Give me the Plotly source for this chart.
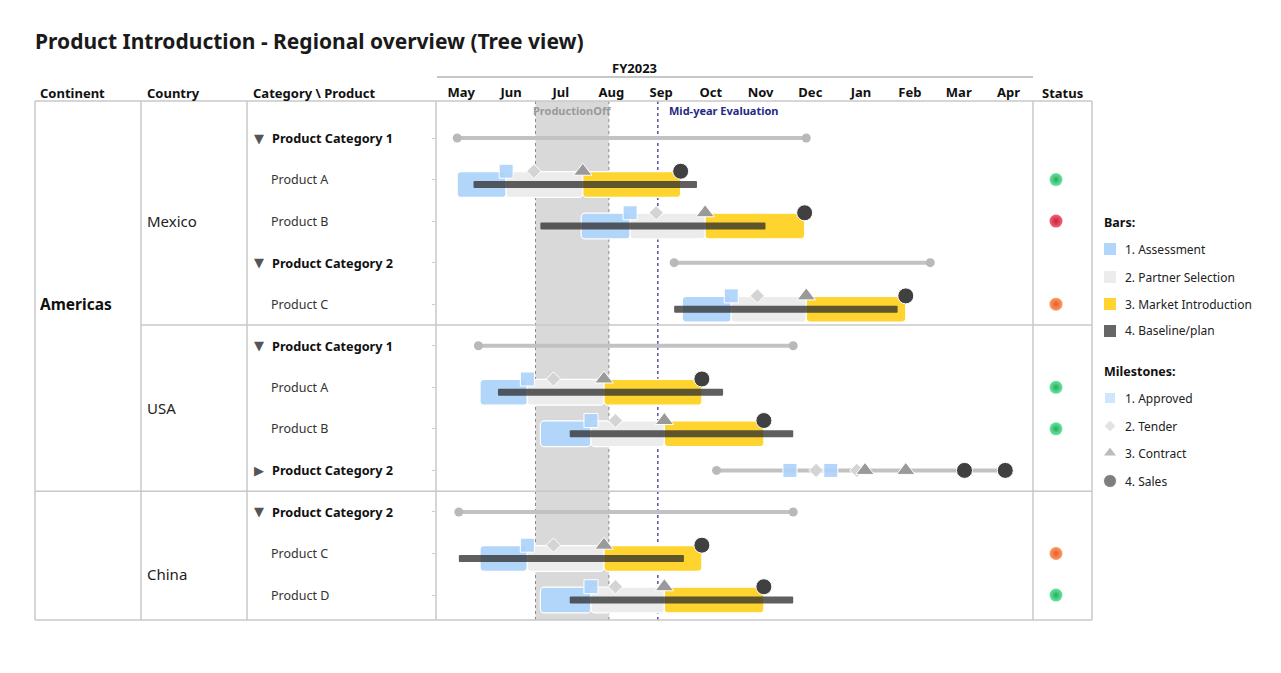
import plotly.graph_objects as go
import pandas as pd

# the page body has an 8px margin; the figure is sized to fit inside the window
PAGE_OFF = 8
W, H = 1265, 657
FONT = "Noto Sans"
TXT_SHIFT = -2   # compensate annotation padding

# ---------------- data ----------------
title = "Product Introduction - Regional overview (Tree view)"
fiscal_year = "FY2023"
month_labels = ["May", "Jun", "Jul", "Aug", "Sep", "Oct", "Nov", "Dec", "Jan", "Feb", "Mar", "Apr"]
month_starts = ["2023-05-01", "2023-06-01", "2023-07-01", "2023-08-01", "2023-09-01", "2023-10-01",
                "2023-11-01", "2023-12-01", "2024-01-01", "2024-02-01", "2024-03-01", "2024-04-01",
                "2024-05-01"]

row_labels = ["Product Category 1", "Product A", "Product B", "Product Category 2", "Product C",
              "Product Category 1", "Product A", "Product B", "Product Category 2",
              "Product Category 2", "Product C", "Product D"]
row_levels = ["category", "product", "product", "category", "product",
              "category", "product", "product", "collapsed",
              "category", "product", "product"]

continent_labels = ["Americas"]
continent_label_rows = [4]
country_labels = ["Mexico", "USA", "China"]
country_label_rows = [2, 6.5, 10.5]
country_boundaries = [4.5]     # between Mexico and USA
continent_boundaries = [8.5]   # between Americas and China

product_rows = [1, 2, 4, 6, 7, 10, 11]
assess_start = ["2023-05-14", "2023-07-29", "2023-09-29", "2023-05-28", "2023-07-04", "2023-05-28", "2023-07-04"]
assess_end = ["2023-06-13", "2023-08-28", "2023-10-29", "2023-06-26", "2023-08-04", "2023-06-26", "2023-08-04"]
partner_end = ["2023-07-30", "2023-10-13", "2023-12-14", "2023-08-12", "2023-09-18", "2023-08-12", "2023-09-18"]
market_end = ["2023-09-28", "2023-12-13", "2024-02-13", "2023-10-11", "2023-11-18", "2023-10-11", "2023-11-18"]
baseline_start = ["2023-05-24", "2023-07-04", "2023-09-24", "2023-06-08", "2023-07-22", "2023-05-15", "2023-07-22"]
baseline_end = ["2023-10-08", "2023-11-19", "2024-02-08", "2023-10-24", "2023-12-06", "2023-09-30", "2023-12-06"]
ms_approved = ["2023-06-13", "2023-08-28", "2023-10-29", "2023-06-26", "2023-08-04", "2023-06-26", "2023-08-04"]
ms_tender = ["2023-06-30", "2023-09-13", "2023-11-14", "2023-07-12", "2023-08-19", "2023-07-12", "2023-08-19"]
ms_contract = ["2023-07-30", "2023-10-13", "2023-12-14", "2023-08-12", "2023-09-18", "2023-08-12", "2023-09-18"]
ms_sales = ["2023-09-28", "2023-12-13", "2024-02-13", "2023-10-11", "2023-11-18", "2023-10-11", "2023-11-18"]
status = ["green", "red", "orange", "green", "green", "orange", "green"]

summary_rows = [0, 3, 5, 8, 9]
summary_start = ["2023-05-14", "2023-09-24", "2023-05-27", "2023-10-20", "2023-05-15"]
summary_end = ["2023-12-14", "2024-02-28", "2023-12-06", "2024-04-14", "2023-12-06"]

collapsed_row = 8
collapsed_approved = ["2023-12-04", "2023-12-29"]
collapsed_tender = ["2023-12-20", "2024-01-14"]
collapsed_contract = ["2024-01-19", "2024-02-13"]
collapsed_sales = ["2024-03-20", "2024-04-14"]

production_off = ["2023-07-01", "2023-08-15"]
production_off_label = "ProductionOff"
midyear = "2023-09-14"
midyear_label = "Mid-year Evaluation"

legend_bar_labels = ["1. Assessment", "2. Partner Selection", "3. Market Introduction", "4. Baseline/plan"]
legend_ms_labels = ["1. Approved", "2. Tender", "3. Contract", "4. Sales"]

# ---------------- styles ----------------
C_ASSESS = "#b2d6fa"
C_PARTNER = "#ececec"
C_MARKET = "#ffd42e"
C_BASE = "rgba(45,45,45,0.76)"
C_APPROVED = "rgba(172,210,250,0.92)"
C_TENDER = "#d4d4d4"
C_CONTRACT = "#9a9a9a"
C_SALES = "#404040"
C_GRID = "#c8c8c8"
STATUS_COL = {"green": ("#6ae6a4", "#2aa862"), "red": ("#f4607a", "#c8203a"),
              "orange": ("#ff9a66", "#e0602a")}

BAR_OFF = 0.12
MS_OFF = -0.2


def px(x):
    return (x - PAGE_OFF) / W


def py(y):
    return 1 - (y - PAGE_OFF) / H


def dur(a, b):
    return [(pd.Timestamp(e) - pd.Timestamp(s)).total_seconds() * 1000 for s, e in zip(a, b)]


fig = go.Figure()

# phase bars
for starts, ends, col in [(assess_start, assess_end, C_ASSESS),
                          (assess_end, partner_end, C_PARTNER),
                          (partner_end, market_end, C_MARKET)]:
    fig.add_trace(go.Bar(
        y=[r + BAR_OFF for r in product_rows], base=starts, x=dur(starts, ends),
        orientation="h", width=0.62,
        marker=dict(color=col, cornerradius=4, line=dict(color="white", width=1.2)),
        showlegend=False, hoverinfo="skip"))

# baseline
fig.add_trace(go.Bar(
    y=[r + BAR_OFF for r in product_rows], base=baseline_start, x=dur(baseline_start, baseline_end),
    orientation="h", width=0.17,
    marker=dict(color=C_BASE, cornerradius=1, line=dict(width=0)),
    showlegend=False, hoverinfo="skip"))

# summary lines
sx, sy = [], []
for r, s, e in zip(summary_rows, summary_start, summary_end):
    sx += [s, e, None]
    sy += [r, r, None]
fig.add_trace(go.Scatter(x=sx, y=sy, mode="lines+markers",
                         line=dict(color="#c2c2c2", width=4),
                         marker=dict(color="#b9b9b9", size=9),
                         showlegend=False, hoverinfo="skip"))

# milestones
ms_specs = [("square", 14, C_APPROVED, ms_approved, collapsed_approved),
            ("diamond", 11, C_TENDER, ms_tender, collapsed_tender),
            ("triangle-up", 16, C_CONTRACT, ms_contract, collapsed_contract),
            ("circle", 16, C_SALES, ms_sales, collapsed_sales)]
for sym, size, col, vals, cvals in ms_specs:
    fig.add_trace(go.Scatter(
        x=vals + cvals,
        y=[r + MS_OFF for r in product_rows] + [collapsed_row] * len(cvals),
        mode="markers",
        marker=dict(symbol=sym, size=size, color=col, line=dict(color="white", width=1)),
        showlegend=False, hoverinfo="skip"))

# status dots
fig.add_trace(go.Scatter(
    x=[0.39] * len(product_rows), y=product_rows, xaxis="x2", yaxis="y",
    mode="markers",
    marker=dict(size=13, color=[STATUS_COL[s][0] for s in status],
                gradient=dict(type="radial", color=[STATUS_COL[s][1] for s in status]),
                line=dict(width=0)),
    showlegend=False, hoverinfo="skip"))

# legend symbols (pixel-space helper axis)
leg_bar_y = [249, 277, 304, 331]
leg_ms_y = [398, 426, 453, 481]
fig.add_trace(go.Scatter(
    x=[1110] * 4, y=leg_bar_y, xaxis="x3", yaxis="y3", mode="markers",
    marker=dict(symbol="square", size=12, color=[C_ASSESS, C_PARTNER, C_MARKET, "#666666"]),
    showlegend=False, hoverinfo="skip"))
fig.add_trace(go.Scatter(
    x=[1110] * 4, y=leg_ms_y, xaxis="x3", yaxis="y3", mode="markers",
    marker=dict(symbol=["square", "diamond", "triangle-up", "circle"], size=[11, 9, 12, 13],
                color=["#bcdcfb", "#d8d8d8", "#a0a0a0", "#484848"]),
    showlegend=False, hoverinfo="skip"))

shapes = []
ann = []

# production off band + lines
shapes.append(dict(type="rect", xref="x", yref="y domain", x0=production_off[0], x1=production_off[1],
                   y0=0, y1=1, fillcolor="#d9d9d9", line=dict(width=0), layer="below"))
for xv in production_off:
    shapes.append(dict(type="line", xref="x", yref="y domain", x0=xv, x1=xv, y0=0, y1=1,
                       line=dict(color="#8a8a8a", width=1, dash="dot"), layer="below"))
shapes.append(dict(type="line", xref="x", yref="y domain", x0=midyear, x1=midyear, y0=0, y1=1,
                   line=dict(color="#2b2b8c", width=1.2, dash="dot"), layer="below"))
mid_po = pd.Timestamp(production_off[0]) + (pd.Timestamp(production_off[1]) - pd.Timestamp(production_off[0])) / 2
ann.append(dict(x=mid_po.strftime("%Y-%m-%d %H:%M"), xref="x", y=py(110), yref="paper", text=production_off_label,
                showarrow=False, xanchor="center", yanchor="middle",
                font=dict(family=FONT, size=11, color="#9a9a9a", weight="bold")))
ann.append(dict(x=midyear, xref="x", xshift=9, y=py(110), yref="paper", text=midyear_label,
                showarrow=False, xanchor="left", yanchor="middle",
                font=dict(family=FONT, size=11, color="#1f2a84", weight="bold")))

# table grid
def hline(y, x0, x1, yref="paper"):
    shapes.append(dict(type="line", xref="paper", yref=yref, x0=px(x0), x1=px(x1), y0=y, y1=y,
                       line=dict(color=C_GRID, width=1.5)))


def vline(x, y0, y1):
    shapes.append(dict(type="line", xref="paper", yref="paper", x0=px(x), x1=px(x), y0=py(y0), y1=py(y1),
                       line=dict(color=C_GRID, width=1.5)))


hline(py(101), 35, 1092)
hline(py(620), 35, 1092)
for b in country_boundaries:
    hline(b, 141, 1092, "y")
for b in continent_boundaries:
    hline(b, 35, 1092, "y")
for xv in [35, 141, 247, 436, 1033, 1092]:
    vline(xv, 101, 620)
# FY line
shapes.append(dict(type="line", xref="paper", yref="paper", x0=px(437), x1=px(1033), y0=py(77), y1=py(77),
                   line=dict(color="#b5b5b5", width=1.5)))


def left_text(x, y, text, font, yref="paper"):
    ann.append(dict(x=px(x), y=y, xref="paper", yref=yref, xshift=TXT_SHIFT, text=text, showarrow=False,
                    xanchor="left", yanchor="middle", font=font))


# title and headers
left_text(35, py(41), title, dict(family=FONT, size=21, color="#1a1a1a", weight="bold"))
ann.append(dict(x=px(634), y=py(68), xref="paper", yref="paper", text=fiscal_year, showarrow=False,
                xanchor="center", yanchor="middle", font=dict(family=FONT, size=13, color="#111", weight="bold")))
for txt, xv in [("Continent", 40), ("Country", 147), ("Category \\ Product", 253), ("Status", 1042)]:
    left_text(xv, py(93), txt, dict(family=FONT, size=13, color="#111", weight="bold"))

# tree labels
for i, (lab, lev) in enumerate(zip(row_labels, row_levels)):
    if lev == "product":
        left_text(271, i, lab, dict(family=FONT, size=12.5, color="#333"), "y")
    else:
        arrow = "▶" if lev == "collapsed" else "▼"
        ann.append(dict(x=px(259), y=i, xref="paper", yref="y", text=arrow, showarrow=False,
                        xanchor="center", yanchor="middle", font=dict(family="DejaVu Sans", size=13, color="#555")))
        left_text(272, i, lab, dict(family=FONT, size=12.7, color="#111", weight="bold"), "y")
for lab, r in zip(country_labels, country_label_rows):
    left_text(147, r, lab, dict(family=FONT, size=15, color="#222"), "y")
for lab, r in zip(continent_labels, continent_label_rows):
    left_text(40, r, lab, dict(family=FONT, size=15.5, color="#111", weight="bold"), "y")

# legend texts
left_text(1104, py(222), "Bars:", dict(family=FONT, size=12.5, color="#111", weight="bold"))
left_text(1104, py(371), "Milestones:", dict(family=FONT, size=12.5, color="#111", weight="bold"))
for lab, yv in zip(legend_bar_labels + legend_ms_labels, leg_bar_y + leg_ms_y):
    left_text(1125, py(yv), lab, dict(family=FONT, size=12, color="#222"))

# month ticks at mid-month
ms_ts = [pd.Timestamp(m) for m in month_starts]
tickvals = [(a + (b - a) / 2).strftime("%Y-%m-%d %H:%M") for a, b in zip(ms_ts[:-1], ms_ts[1:])]

y_top = -(138 - 101) / 41.55
y_bot = (620 - 138) / 41.55

fig.update_layout(
    width=W, height=H, margin=dict(l=0, r=0, t=0, b=0),
    paper_bgcolor="white", plot_bgcolor="rgba(0,0,0,0)",
    barmode="overlay", showlegend=False,
    xaxis=dict(type="date", domain=[px(436), px(1033)], range=[month_starts[0], month_starts[-1]],
               side="top", tickvals=tickvals, ticktext=month_labels, ticks="", showgrid=False,
               zeroline=False, showline=False, anchor="y",
               tickfont=dict(family=FONT, size=13, color="#111", weight="bold")),
    yaxis=dict(domain=[py(620), py(101)], range=[y_bot, y_top], showticklabels=False,
               tickvals=list(range(len(row_labels))), ticks="outside", ticklen=3, tickcolor="#cccccc",
               showgrid=False, zeroline=False, showline=False, anchor="x"),
    xaxis2=dict(domain=[px(1033), px(1092)], range=[0, 1], visible=False, anchor="y"),
    xaxis3=dict(domain=[px(1095), px(1270)], range=[1095, 1270], visible=False, anchor="y3"),
    yaxis3=dict(domain=[py(500), py(200)], range=[500, 200], visible=False, anchor="x3"),
    shapes=shapes, annotations=ann,
    font=dict(family=FONT),
)

fig.write_html("out.html")
